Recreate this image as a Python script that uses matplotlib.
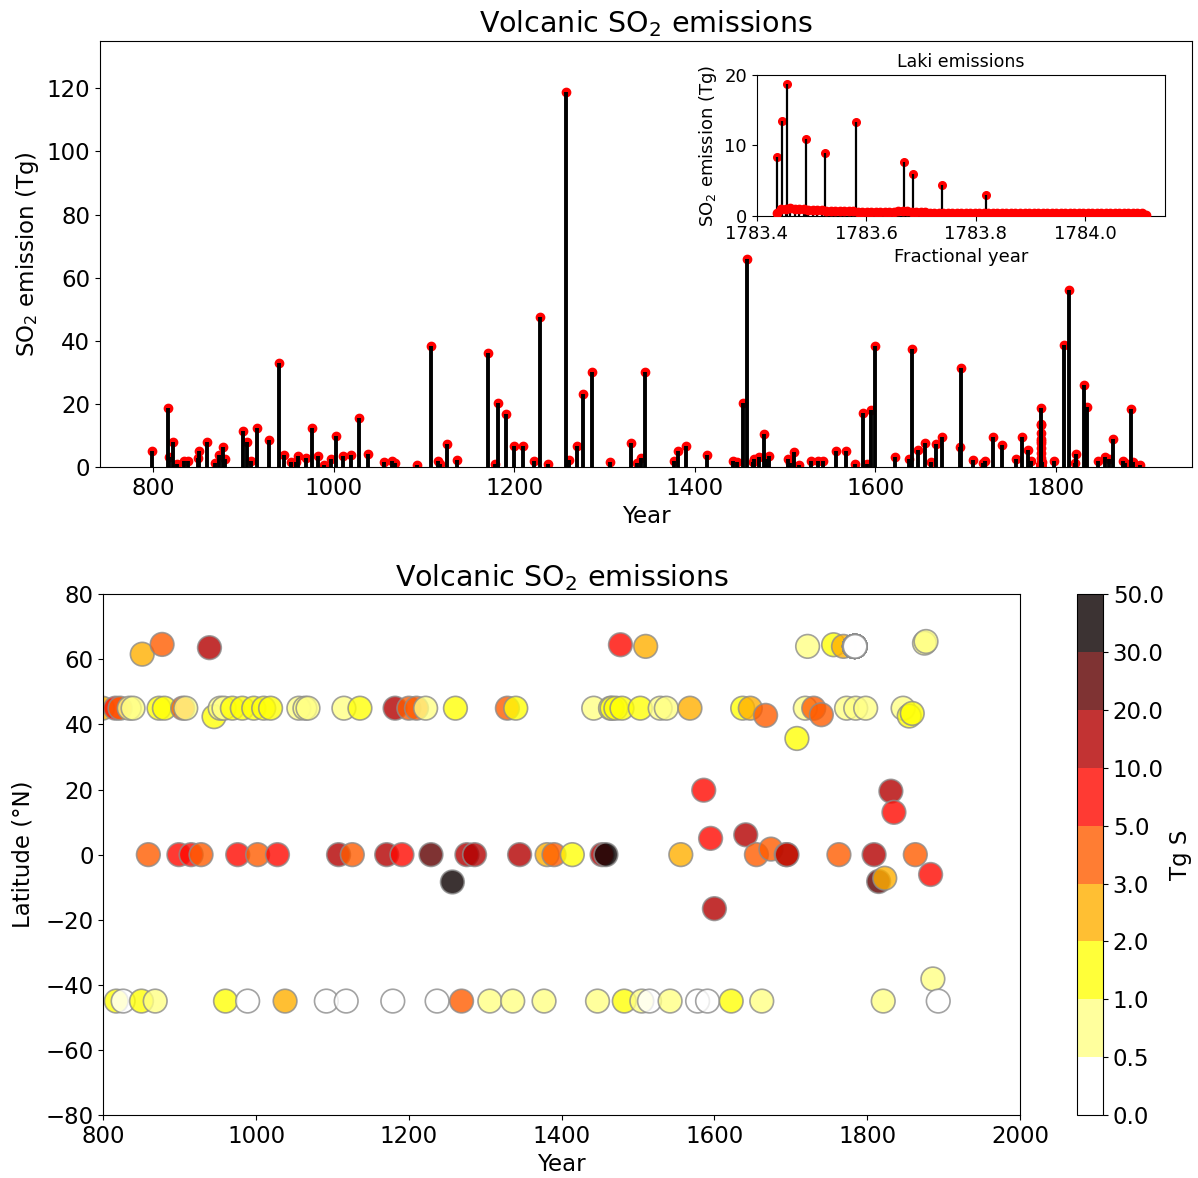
import numpy as np
import matplotlib
matplotlib.use("Agg")
import matplotlib.pyplot as plt
from matplotlib.colors import BoundaryNorm

plt.rcParams['font.size'] = 16.5

# eruption year, latitude (deg N) and SO2 injection (Tg)
years = [799, 816, 817, 822, 826, 834, 839, 850, 851, 859, 868, 873, 877, 880,
         899, 904, 908, 915, 928, 939, 945, 953, 958, 960, 969, 976, 982, 989,
         997, 1002, 1010, 1019, 1028, 1038, 1056, 1064, 1068, 1092, 1108, 1115,
         1118, 1126, 1136, 1171, 1179, 1182, 1191, 1200, 1210, 1222, 1229, 1237,
         1257, 1261, 1269, 1276, 1286, 1306, 1329, 1336, 1340, 1345, 1377, 1381,
         1390, 1414, 1442, 1447, 1453, 1458, 1464, 1466, 1471, 1477, 1479, 1482,
         1503, 1505, 1510, 1515, 1529, 1537, 1542, 1556, 1568, 1578, 1586, 1591,
         1595, 1600, 1622, 1637, 1641, 1647, 1655, 1662, 1667, 1674, 1694, 1695,
         1708, 1719, 1722, 1730, 1740, 1756, 1763, 1769, 1773, 1785, 1798, 1809,
         1815, 1821, 1823, 1831, 1835, 1847, 1855, 1859, 1863, 1875, 1877, 1883,
         1886, 1893]
lats = [45, 45, -45, 45, -45, 45, 45, -45, 61.6, 0, -45, 45, 64.6, 45,
        0, 45, 45, 0, 0, 63.6, 42.4, 45, 45, -45, 45, 0, 45, -45,
        45, 0, 45, 45, 0, -45, 45, 45, 45, -45, 0, 45,
        -45, 0, 45, 0, -45, 45, 0, 45, 45, 45, 0, -45,
        -8.4, 45, -45, 0, 0, -45, 45, -45, 45, 0, -45, 0,
        0, 0, 45, -45, 0, 0, 45, 45, 45, 64.5, 45, -45,
        45, -45, 64, -45, 45, 45, -45, 0, 45, -45, 19.8, -45,
        5, -16.6, -45, 45, 6.1, 45, 0, -45, 42.8, 1.7, 0, 0,
        35.7, 45, 64, 45, 43, 64.5, 0, 64, 45, 45, 45, 0,
        -8.25, -45, -7.25, 19.5, 13, 45, 42.6, 43.4, 0, 65, 65.5, -6.1,
        -38.2, -45]
so2 = [5.1, 18.6, 3.0, 7.9, 0.8, 1.9, 1.9, 2.8, 5.1, 7.9, 1.3, 3.8, 6.3, 2.6,
       11.3, 7.9, 1.9, 12.5, 8.4, 32.9, 3.7, 1.6, 1.5, 3.4, 2.7, 12.5, 3.4, 0.7,
       2.4, 9.8, 3.4, 3.8, 15.6, 4.2, 1.6, 1.9, 1.1, 0.5, 38.4, 1.9,
       0.8, 7.4, 2.3, 36.1, 0.9, 20.3, 16.9, 6.6, 6.6, 1.8, 47.6, 0.8,
       118.8, 2.3, 6.6, 23.2, 30.2, 1.6, 7.6, 1.1, 2.8, 30.2, 1.9, 5.1,
       6.5, 3.7, 1.9, 1.6, 20.3, 66.0, 1.6, 2.4, 3.0, 10.3, 2.6, 3.4,
       2.4, 1.2, 4.7, 0.7, 1.9, 1.9, 1.8, 5.1, 5.1, 0.9, 17.1, 0.9,
       18.2, 38.2, 3.2, 2.6, 37.3, 5.3, 7.6, 1.6, 7.2, 9.5, 6.2, 31.5,
       2.3, 1.4, 1.9, 9.5, 7.1, 2.6, 9.5, 5.3, 1.8, 1.6, 1.8, 38.5,
       56.2, 1.1, 4.2, 26.1, 19.0, 1.9, 3.2, 2.6, 9.0, 1.9, 1.1, 18.5,
       1.6, 0.7]

# Laki 1783-84: main pulses
laki_lat = 64.0
laki_pulse_t = [1783.437, 1783.447, 1783.455, 1783.490, 1783.524, 1783.582,
                1783.669, 1783.685, 1783.739, 1783.819]
laki_pulse_so2 = [8.3, 13.5, 18.7, 10.9, 8.9, 13.3, 7.7, 5.9, 4.4, 2.9]

# Laki background degassing, one value every 3 days from onset
laki_start = 1783.437
laki_step_days = 3
laki_bg_so2 = [0.4, 0.9, 1.0, 1.1, 1.0, 1.0, 0.9, 0.8, 0.8, 0.8, 0.8,
               0.7, 0.7, 0.7, 0.6, 0.6, 0.6, 0.6, 0.5, 0.5, 0.5, 0.5,
               0.5, 0.5, 0.5, 0.5, 0.5, 0.6, 0.7, 0.6, 0.5, 0.5, 0.5,
               0.5, 0.45, 0.45, 0.45, 0.45, 0.45, 0.45, 0.45, 0.45, 0.45, 0.45,
               0.45, 0.45, 0.45, 0.45, 0.45, 0.45, 0.45, 0.45, 0.45, 0.45, 0.45,
               0.45, 0.45, 0.45, 0.45, 0.45, 0.45, 0.45, 0.45, 0.45, 0.45, 0.45,
               0.45, 0.45, 0.45, 0.45, 0.45, 0.45, 0.45, 0.45, 0.45, 0.45, 0.45,
               0.45, 0.45, 0.45, 0.45, 0.4, 0.1]

levels = [0.0, 0.5, 1.0, 2.0, 3.0, 5.0, 10.0, 20.0, 30.0, 50.0]

laki_bg_t = laki_start + np.arange(len(laki_bg_so2)) * laki_step_days / 365.25
laki_t = np.concatenate([laki_pulse_t, laki_bg_t])
laki_so2 = np.concatenate([laki_pulse_so2, laki_bg_so2])

all_t = np.concatenate([years, laki_t])
all_so2 = np.concatenate([so2, laki_so2])
all_lat = np.concatenate([lats, np.full(len(laki_t), laki_lat)])

fig = plt.figure(figsize=(11.98, 11.78), dpi=100)

# --- stem plot of emissions
ax = fig.add_axes([0.0835, 0.6036, 0.9115, 0.3616])
ax.plot(all_t, all_so2, 'o', color='red', ms=6, zorder=2)
ax.vlines(all_t, 0, all_so2, color='k', lw=2.8, zorder=3)
ax.set_xlim(741, 1951)
ax.set_ylim(0, 135)
ax.set_yticks(np.arange(0, 121, 20))
ax.set_xlabel('Year')
ax.set_ylabel('SO$_2$ emission (Tg)')
ax.set_title('Volcanic SO$_2$ emissions', fontsize=20.5)

# --- inset with the Laki sequence
axi = fig.add_axes([0.6316, 0.8169, 0.3408, 0.1194])
axi.plot(laki_pulse_t, laki_pulse_so2, 'o', color='red', ms=5.5, zorder=2)
axi.vlines(laki_t, 0, laki_so2, color='k', lw=1.6, zorder=3)
axi.plot(laki_bg_t, laki_bg_so2, 'o', color='red', ms=6, zorder=4)
axi.set_xlim(1783.4, 1784.145)
axi.set_ylim(0, 20)
axi.set_xticks([1783.4, 1783.6, 1783.8, 1784.0])
axi.set_yticks([0, 10, 20])
axi.tick_params(labelsize=13)
axi.set_xlabel('Fractional year', fontsize=13, labelpad=3)
axi.set_ylabel('SO$_2$ emission (Tg)', fontsize=13)
axi.set_title('Laki emissions', fontsize=12.5)

# --- latitude vs year, coloured by sulfur mass
ax2 = fig.add_axes([0.0862, 0.0535, 0.7652, 0.442])
cmap = plt.get_cmap('hot_r')
norm = BoundaryNorm(levels, cmap.N)
sc = ax2.scatter(all_t, all_lat, c=all_so2 / 2.0, cmap=cmap, norm=norm,
                 s=290, alpha=0.8, edgecolors='0.55', linewidths=1.2)
ax2.set_xlim(800, 2000)
ax2.set_ylim(-80, 80)
ax2.set_yticks(np.arange(-80, 81, 20))
ax2.set_xlabel('Year')
ax2.set_ylabel('Latitude (°N)', labelpad=8)
ax2.set_title('Volcanic SO$_2$ emissions', fontsize=20.5)

cax = fig.add_axes([0.899, 0.0535, 0.0217, 0.442])
cb = fig.colorbar(sc, cax=cax, ticks=levels, format='%.1f')
cb.set_label('Tg S')

fig.savefig('out.png', dpi=100)
